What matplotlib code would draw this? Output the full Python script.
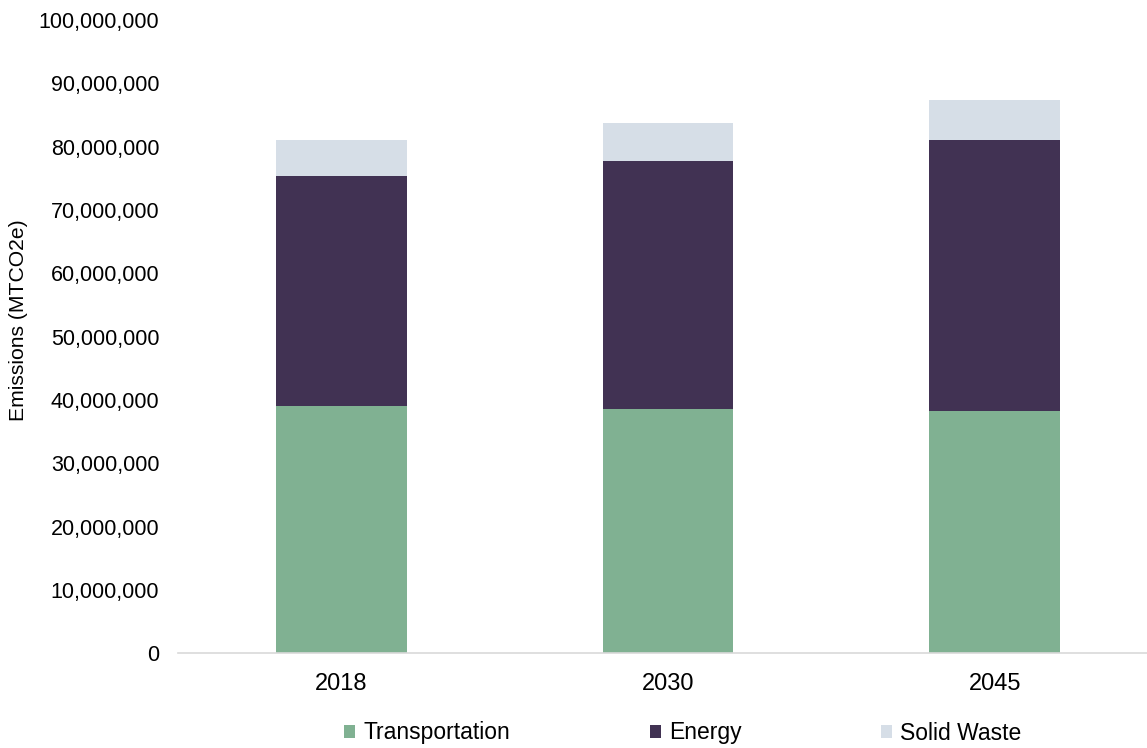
import matplotlib.pyplot as plt
from matplotlib.patches import Patch
from matplotlib.ticker import FuncFormatter

plt.rcParams['font.family'] = ['Liberation Sans', 'DejaVu Sans']

years = ['2018', '2030', '2045']
transportation = [39.0e6, 38.65e6, 38.3e6]
energy = [36.3e6, 39.15e6, 42.7e6]
solid_waste = [5.7e6, 6.0e6, 6.3e6]

c_trans = '#80B192'
c_energy = '#413253'
c_waste = '#D6DEE7'
fs = 15.5

fig = plt.figure(figsize=(11.47, 7.48), dpi=100)
ax = fig.add_axes([178 / 1147, (748 - 653.3) / 748, 1 - 178 / 1147, 633.3 / 748])

x = range(len(years))
bottom2 = [a + b for a, b in zip(transportation, energy)]
ax.bar(x, transportation, width=0.4, color=c_trans, zorder=2)
ax.bar(x, energy, width=0.4, bottom=transportation, color=c_energy, zorder=2)
ax.bar(x, solid_waste, width=0.4, bottom=bottom2, color=c_waste, zorder=2)

ax.set_xlim(-0.5, 2.5 - 11 / 326.5)
ax.set_ylim(0, 100e6)
ax.set_yticks([i * 10e6 for i in range(11)])
ax.yaxis.set_major_formatter(FuncFormatter(lambda v, p: f'{int(v):,}'))
ax.set_xticks(list(x))
ax.set_xticklabels(years)
ax.tick_params(axis='y', length=0, pad=13.5, labelsize=fs, colors='#000000')
ax.tick_params(axis='x', length=0, pad=14, labelsize=17, colors='#000000')

for s in ['top', 'right', 'left']:
    ax.spines[s].set_visible(False)
ax.spines['bottom'].set_color('#D9D9D9')
ax.spines['bottom'].set_linewidth(1.2)

fig.text(19 / 1147, 1 - 320.5 / 748, 'Emissions (MTCO2e)', rotation=90,
         ha='center', va='center', fontsize=15.2)

# legend entries placed one by one, like the original
names = ['Transportation', 'Energy', 'Solid Waste']
cols = [c_trans, c_energy, c_waste]
starts = [344, 650, 881]
for name, col, sx in zip(names, cols, starts):
    fig.legend(handles=[Patch(facecolor=col, edgecolor='none', label=name)],
               loc='center left', bbox_to_anchor=(sx / 1147, 1 - 733 / 748),
               frameon=False, fontsize=16.5, handlelength=0.5, handleheight=0.5,
               handletextpad=0.35, borderpad=0, borderaxespad=0)

fig.savefig('out.png', dpi=100)
